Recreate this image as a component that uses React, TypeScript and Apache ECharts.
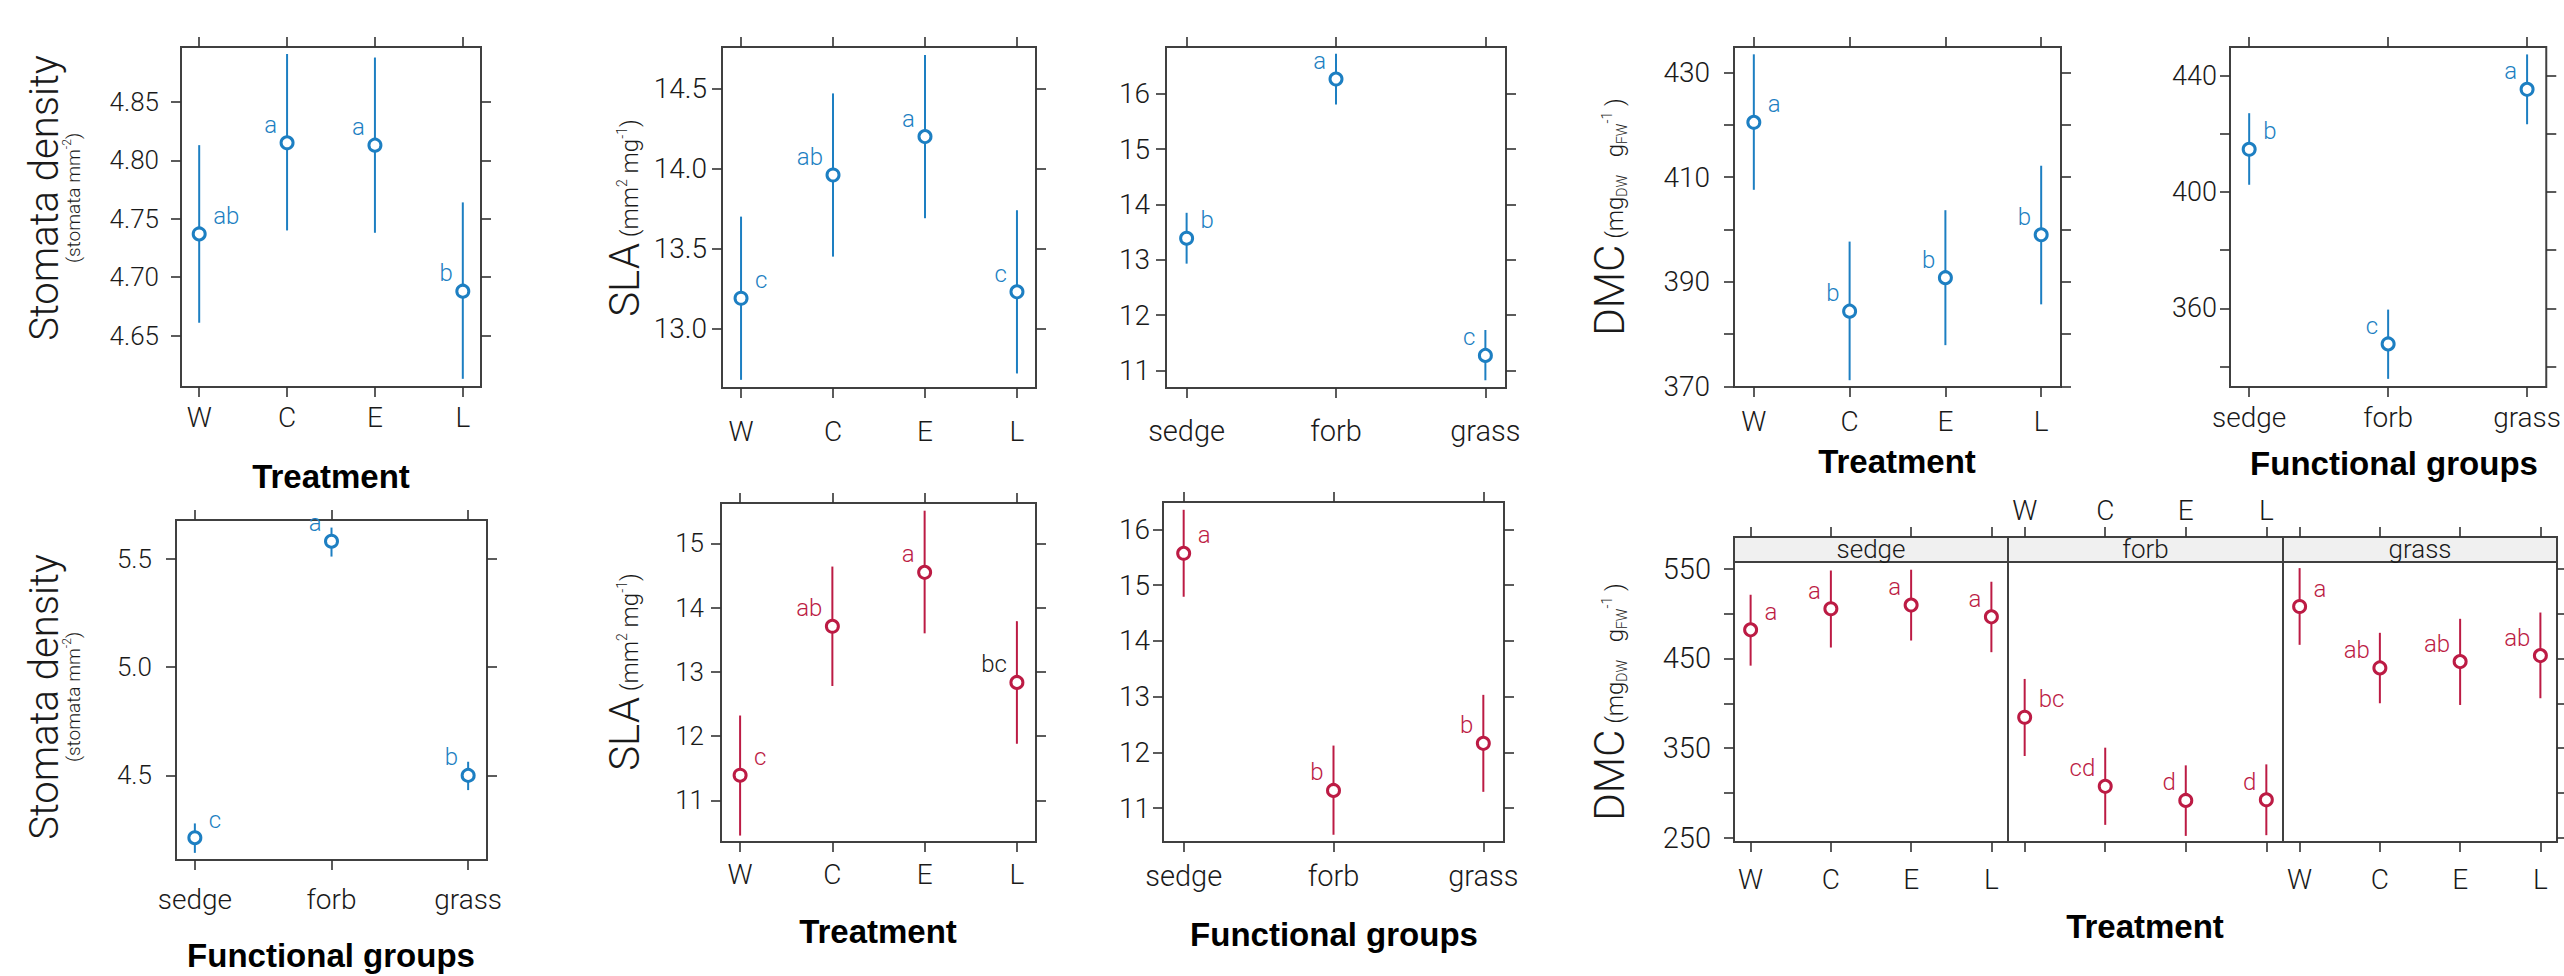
import React, { useEffect, useRef } from "react";
import * as echarts from "echarts";

// ---------- categories ----------
const treatments = ["W", "C", "E", "L"];
const groups = ["sedge", "forb", "grass"];

// ---------- Stomata density by treatment (blue) ----------
const stomataTrtMean = [4.737, 4.815, 4.813, 4.688];
const stomataTrtLo = [4.661, 4.74, 4.738, 4.613];
const stomataTrtHi = [4.813, 4.891, 4.888, 4.764];
const stomataTrtLetters = ["ab", "a", "a", "b"];

// ---------- SLA by treatment (blue) ----------
const slaTrtMean = [13.19, 13.96, 14.2, 13.23];
const slaTrtLo = [12.68, 13.45, 13.69, 12.72];
const slaTrtHi = [13.7, 14.47, 14.71, 13.74];
const slaTrtLetters = ["c", "ab", "a", "c"];

// ---------- SLA by functional group (blue) ----------
const slaGrpMean = [13.39, 16.27, 11.27];
const slaGrpLo = [12.93, 15.81, 10.82];
const slaGrpHi = [13.85, 16.73, 11.73];
const slaGrpLetters = ["b", "a", "c"];

// ---------- DMC by treatment (blue) ----------
const dmcTrtMean = [420.5, 384.4, 390.8, 399.0];
const dmcTrtLo = [407.6, 371.2, 377.9, 385.7];
const dmcTrtHi = [433.5, 397.7, 403.7, 412.2];
const dmcTrtLetters = ["a", "b", "b", "b"];

// ---------- DMC by functional group (blue) ----------
const dmcGrpMean = [414.7, 347.8, 435.3];
const dmcGrpLo = [402.5, 335.8, 423.3];
const dmcGrpHi = [427.1, 359.6, 447.3];
const dmcGrpLetters = ["b", "c", "a"];

// ---------- Stomata density by functional group (blue) ----------
const stomataGrpMean = [4.212, 5.582, 4.5];
const stomataGrpLo = [4.142, 5.511, 4.432];
const stomataGrpHi = [4.278, 5.645, 4.563];
const stomataGrpLetters = ["c", "a", "b"];

// ---------- SLA by treatment (red) ----------
const slaTrt2Mean = [11.39, 13.71, 14.55, 12.835];
const slaTrt2Lo = [10.45, 12.78, 13.6, 11.88];
const slaTrt2Hi = [12.32, 14.64, 15.51, 13.79];
const slaTrt2Letters = ["c", "ab", "a", "bc"];
const slaTrt2LetterInk = ["", "", "", "#1a1a1a"];

// ---------- SLA by functional group (red) ----------
const slaGrp2Mean = [15.57, 11.315, 12.16];
const slaGrp2Lo = [14.79, 10.52, 11.29];
const slaGrp2Hi = [16.35, 12.12, 13.03];
const slaGrp2Letters = ["a", "b", "b"];

// ---------- DMC by group x treatment (red) ----------
const dmcSedgeMean = [481.9, 505.4, 509.5, 496.4];
const dmcSedgeLo = [442.0, 462.2, 470.0, 457.0];
const dmcSedgeHi = [521.0, 548.0, 548.9, 535.5];
const dmcSedgeLetters = ["a", "a", "a", "a"];

const dmcForbMean = [384.5, 307.5, 291.8, 292.5];
const dmcForbLo = [341.3, 264.6, 252.3, 253.1];
const dmcForbHi = [427.2, 350.6, 330.9, 332.0];
const dmcForbLetters = ["bc", "cd", "d", "d"];

const dmcGrassMean = [507.9, 439.5, 446.5, 453.2];
const dmcGrassLo = [465.2, 400.1, 398.2, 405.7];
const dmcGrassHi = [550.7, 478.6, 494.2, 501.2];
const dmcGrassLetters = ["a", "ab", "ab", "ab"];

// ---------- tick values ----------
const stomataTrtTicks = [4.65, 4.7, 4.75, 4.8, 4.85];
const slaTrtTicks = [13, 13.5, 14, 14.5];
const slaGrpTicks = [11, 12, 13, 14, 15, 16];
const dmcTrtTicks = [370, 380, 390, 400, 410, 420, 430];
const dmcTrtLabels = [370, 390, 410, 430];
const dmcGrpTicks = [340, 360, 380, 400, 420, 440];
const dmcGrpLabels = [360, 400, 440];
const stomataGrpTicks = [4.5, 5.0, 5.5];
const slaTrt2Ticks = [11, 12, 13, 14, 15];
const slaGrp2Ticks = [11, 12, 13, 14, 15, 16];
const dmcFacetTicks = [250, 300, 350, 400, 450, 500, 550];
const dmcFacetLabels = [250, 350, 450, 550];

// ---------- styling ----------
const BLUE = "#1d7fc2";
const RED = "#bc1b44";
const INK = "#1a1a1a";
const FONT = "Roboto, 'Liberation Sans', sans-serif";
const BOLD = "'Liberation Sans', Arial, sans-serif";

function catRange(n: number) {
  const pad = 0.069 * (n - 1);
  return [1 - pad, n + pad];
}

type Panel = {
  left: number; top: number; width: number; height: number;
  cats: string[];
  yMin: number; yMax: number; yTicks: number[]; yLabels: number[]; dec: number;
  mean: number[]; lo: number[]; hi: number[]; letters: string[]; color: string; ink?: string[];
  yMargin: number; yFont: number; xMargin: number; xFont: number;
  leftTicks: boolean; rightTicks: boolean; bottomLabels: boolean;
  topLabels?: boolean; topOffset?: number; topMargin?: number;
};

const panels: Panel[] = [
  { left: 181, top: 47, width: 300, height: 340, cats: treatments, yMin: 4.606, yMax: 4.897,
    yTicks: stomataTrtTicks, yLabels: stomataTrtTicks, dec: 2,
    mean: stomataTrtMean, lo: stomataTrtLo, hi: stomataTrtHi, letters: stomataTrtLetters, color: BLUE,
    yMargin: 22, yFont: 26, xMargin: 16, xFont: 28, leftTicks: true, rightTicks: true, bottomLabels: true },
  { left: 722, top: 47, width: 314, height: 341, cats: treatments, yMin: 12.629, yMax: 14.76,
    yTicks: slaTrtTicks, yLabels: slaTrtTicks, dec: 1,
    mean: slaTrtMean, lo: slaTrtLo, hi: slaTrtHi, letters: slaTrtLetters, color: BLUE,
    yMargin: 15, yFont: 28, xMargin: 29, xFont: 28, leftTicks: true, rightTicks: true, bottomLabels: true },
  { left: 1166, top: 47, width: 340, height: 341, cats: groups, yMin: 10.68, yMax: 16.85,
    yTicks: slaGrpTicks, yLabels: slaGrpTicks, dec: 0,
    mean: slaGrpMean, lo: slaGrpLo, hi: slaGrpHi, letters: slaGrpLetters, color: BLUE,
    yMargin: 16, yFont: 28, xMargin: 28, xFont: 29, leftTicks: true, rightTicks: true, bottomLabels: true },
  { left: 1734, top: 47, width: 327, height: 340, cats: treatments, yMin: 369.9, yMax: 434.9,
    yTicks: dmcTrtTicks, yLabels: dmcTrtLabels, dec: 0,
    mean: dmcTrtMean, lo: dmcTrtLo, hi: dmcTrtHi, letters: dmcTrtLetters, color: BLUE,
    yMargin: 24, yFont: 28, xMargin: 20, xFont: 28, leftTicks: true, rightTicks: true, bottomLabels: true },
  { left: 2230, top: 47, width: 328, height: 340, cats: groups, yMin: 333.0, yMax: 449.85,
    yTicks: dmcGrpTicks, yLabels: dmcGrpLabels, dec: 0,
    mean: dmcGrpMean, lo: dmcGrpLo, hi: dmcGrpHi, letters: dmcGrpLetters, color: BLUE,
    yMargin: 13, yFont: 27, xMargin: 16, xFont: 28, leftTicks: true, rightTicks: true, bottomLabels: true },
  { left: 176, top: 520, width: 311, height: 340, cats: groups, yMin: 4.109, yMax: 5.68,
    yTicks: stomataGrpTicks, yLabels: stomataGrpTicks, dec: 1,
    mean: stomataGrpMean, lo: stomataGrpLo, hi: stomataGrpHi, letters: stomataGrpLetters, color: BLUE,
    yMargin: 24, yFont: 26, xMargin: 25, xFont: 28, leftTicks: true, rightTicks: true, bottomLabels: true },
  { left: 721, top: 503, width: 315, height: 339, cats: treatments, yMin: 10.35, yMax: 15.63,
    yTicks: slaTrt2Ticks, yLabels: slaTrt2Ticks, dec: 0,
    mean: slaTrt2Mean, lo: slaTrt2Lo, hi: slaTrt2Hi, letters: slaTrt2Letters, color: RED, ink: slaTrt2LetterInk,
    yMargin: 17, yFont: 26, xMargin: 18, xFont: 28, leftTicks: true, rightTicks: true, bottomLabels: true },
  { left: 1163, top: 502, width: 341, height: 340, cats: groups, yMin: 10.39, yMax: 16.49,
    yTicks: slaGrp2Ticks, yLabels: slaGrp2Ticks, dec: 0,
    mean: slaGrp2Mean, lo: slaGrp2Lo, hi: slaGrp2Hi, letters: slaGrp2Letters, color: RED,
    yMargin: 13, yFont: 28, xMargin: 19, xFont: 29, leftTicks: true, rightTicks: true, bottomLabels: true },
  { left: 1734, top: 562, width: 274, height: 280, cats: treatments, yMin: 245.5, yMax: 557.5,
    yTicks: dmcFacetTicks, yLabels: dmcFacetLabels, dec: 0,
    mean: dmcSedgeMean, lo: dmcSedgeLo, hi: dmcSedgeHi, letters: dmcSedgeLetters, color: RED,
    yMargin: 23, yFont: 29, xMargin: 23, xFont: 28, leftTicks: true, rightTicks: false, bottomLabels: true,
    topOffset: 25 },
  { left: 2008, top: 562, width: 275, height: 280, cats: treatments, yMin: 245.5, yMax: 557.5,
    yTicks: dmcFacetTicks, yLabels: [], dec: 0,
    mean: dmcForbMean, lo: dmcForbLo, hi: dmcForbHi, letters: dmcForbLetters, color: RED,
    yMargin: 23, yFont: 29, xMargin: 23, xFont: 28, leftTicks: false, rightTicks: false, bottomLabels: false,
    topOffset: 25, topLabels: true, topMargin: 13 },
  { left: 2283, top: 562, width: 274, height: 280, cats: treatments, yMin: 245.5, yMax: 557.5,
    yTicks: dmcFacetTicks, yLabels: [], dec: 0,
    mean: dmcGrassMean, lo: dmcGrassLo, hi: dmcGrassHi, letters: dmcGrassLetters, color: RED,
    yMargin: 23, yFont: 29, xMargin: 23, xFont: 28, leftTicks: false, rightTicks: true, bottomLabels: true,
    topOffset: 25 },
];

const tickStyle = { color: "#333", width: 1.6 };

function buildOption() {
  const grid: any[] = [];
  const xAxis: any[] = [];
  const yAxis: any[] = [];
  const series: any[] = [];

  panels.forEach((p, i) => {
    const [xmin, xmax] = catRange(p.cats.length);
    const catVals = p.cats.map((_, k) => k + 1);
    grid.push({
      left: p.left, top: p.top, width: p.width, height: p.height,
      show: true, borderColor: "#404040", borderWidth: 2, backgroundColor: "transparent",
    });
    const xLabelFmt = (v: number) => p.cats[Math.round(v) - 1] ?? "";
    const xBase = {
      type: "value", gridIndex: i, min: xmin, max: xmax,
      axisLine: { show: false }, splitLine: { show: false },
    };
    xAxis.push({
      ...xBase, position: "bottom",
      axisTick: { show: true, customValues: catVals, length: 10, lineStyle: tickStyle },
      axisLabel: {
        show: p.bottomLabels, customValues: catVals, formatter: xLabelFmt, margin: p.xMargin,
        fontSize: p.xFont, fontFamily: FONT, fontWeight: 300, color: INK,
      },
    });
    xAxis.push({
      ...xBase, position: "top", offset: p.topOffset || 0,
      axisTick: { show: true, customValues: catVals, length: 10, lineStyle: tickStyle },
      axisLabel: {
        show: !!p.topLabels, customValues: catVals, formatter: xLabelFmt, margin: p.topMargin || 13,
        fontSize: p.xFont, fontFamily: FONT, fontWeight: 300, color: INK,
      },
    });
    const yBase = {
      type: "value", gridIndex: i, min: p.yMin, max: p.yMax,
      axisLine: { show: false }, splitLine: { show: false },
    };
    yAxis.push({
      ...yBase, position: "left",
      axisTick: { show: p.leftTicks, customValues: p.yTicks, length: 10, lineStyle: tickStyle },
      axisLabel: {
        show: p.yLabels.length > 0, customValues: p.yLabels.length ? p.yLabels : p.yTicks,
        formatter: (v: number) => v.toFixed(p.dec), margin: p.yMargin,
        fontSize: p.yFont, fontFamily: FONT, fontWeight: 300, color: INK,
      },
    });
    yAxis.push({
      ...yBase, position: "right",
      axisTick: { show: p.rightTicks, customValues: p.yTicks, length: 10, lineStyle: tickStyle },
      axisLabel: { show: false },
    });

    series.push({
      type: "custom",
      xAxisIndex: 2 * i,
      yAxisIndex: 2 * i,
      clip: false,
      data: p.cats.map((_, k) => [k + 1, p.mean[k], p.lo[k], p.hi[k]]),
      renderItem: (params: any, api: any) => {
        const x = api.value(0);
        const pm = api.coord([x, api.value(1)]);
        const pl = api.coord([x, api.value(2)]);
        const ph = api.coord([x, api.value(3)]);
        const k = params.dataIndex;
        const right = k === 0;
        const ink = (p.ink && p.ink[k]) || p.color;
        return {
          type: "group",
          children: [
            { type: "line", shape: { x1: pl[0], y1: pl[1], x2: ph[0], y2: ph[1] },
              style: { stroke: p.color, lineWidth: 2 } },
            { type: "circle", shape: { cx: pm[0], cy: pm[1], r: 6 },
              style: { fill: "#ffffff", stroke: p.color, lineWidth: 3 } },
            { type: "text", x: pm[0] + (right ? 14 : -10), y: pm[1] - 18,
              style: { text: p.letters[k], fill: ink, fontSize: 24, fontFamily: FONT, fontWeight: 300,
                align: right ? "left" : "right", verticalAlign: "middle" } },
          ],
        };
      },
    });
  });

  // rich styles: tokens are centred on the line middle; padding shifts them
  // (text centre moves by (padTop - padBottom) / 2) so baselines line up.
  const tok = (f: number, padding?: number[]) => ({
    fontSize: f, fontFamily: FONT, fontWeight: 300, fill: INK, ...(padding ? { padding } : {}),
  });
  const richSet = {
    big: tok(42),
    u: tok(24, [11.4, 0, 0, 0]),
    sup: tok(14, [0, 0, 4.2, 0]),
    sub: tok(14, [25.8, 0, 0, 0]),
  };

  const slaTitle = (x: number, y: number) => ({
    type: "text", x, y, rotation: Math.PI / 2,
    style: { text: "{big|SLA}{u| (mm}{sup|2}{u| mg}{sup|-1}{u|)}", align: "center", verticalAlign: "middle",
      fontSize: 24, fontFamily: FONT, rich: richSet },
  });
  const dmcTitle = (x: number, y: number) => ({
    type: "text", x, y, rotation: Math.PI / 2,
    style: { text: "{big|DMC}{u| (mg}{sub|DW}{u|   g}{sub|FW}{sup|-1}{u| )}", align: "center", verticalAlign: "middle",
      fontSize: 24, fontFamily: FONT, rich: richSet },
  });
  const smallRich = {
    s: tok(19),
    p: tok(12, [0, 0, 11.4, 0]),
  };
  const stomataTitle = (xBig: number, xSmall: number, y: number) => [
    { type: "text", x: xBig, y, rotation: Math.PI / 2,
      style: { text: "Stomata density", align: "center", verticalAlign: "middle",
        fontSize: 40, fontFamily: FONT, fontWeight: 300, fill: INK } },
    { type: "text", x: xSmall, y, rotation: Math.PI / 2,
      style: { text: "{s|(stomata mm}{p|-2}{s|)}", align: "center", verticalAlign: "middle",
        fontSize: 19, fontFamily: FONT, rich: smallRich } },
  ];
  const xTitle = (text: string, x: number, y: number) => ({
    type: "text", x, y,
    style: { text, align: "center", verticalAlign: "middle", fontSize: 33, fontWeight: "bold",
      fontFamily: BOLD, fill: "#000" },
  });
  const strip = (text: string, x: number, w: number) => [
    { type: "rect", shape: { x, y: 537, width: w, height: 25 },
      style: { fill: "#f0f0f0", stroke: "#404040", lineWidth: 2 } },
    { type: "text", x: x + w / 2, y: 549,
      style: { text, align: "center", verticalAlign: "middle", fontSize: 26, fontFamily: FONT,
        fontWeight: 300, fill: INK } },
  ];

  const graphic: any[] = [
    ...stomataTitle(44, 73, 198),
    ...stomataTitle(44, 73, 697),
    slaTitle(624, 218),
    slaTitle(624, 672),
    dmcTitle(1609, 217),
    dmcTitle(1609, 702),
    xTitle("Treatment", 331, 476),
    xTitle("Treatment", 1897, 461),
    xTitle("Functional groups", 2394, 463),
    xTitle("Functional groups", 331, 955),
    xTitle("Treatment", 878, 931),
    xTitle("Functional groups", 1334, 934),
    xTitle("Treatment", 2145, 926),
    ...strip(groups[0], 1734, 274),
    ...strip(groups[1], 2008, 275),
    ...strip(groups[2], 2283, 274),
  ];

  return { animation: false, backgroundColor: "#ffffff", grid, xAxis, yAxis, series, graphic };
}

export default function App() {
  const ref = useRef<HTMLDivElement>(null);
  useEffect(() => {
    document.body.style.margin = "0";
    document.body.style.overflow = "hidden";
    const chart = echarts.init(ref.current as HTMLDivElement, null, { renderer: "svg", width: 2564, height: 976 });
    chart.setOption(buildOption() as any);
    return () => chart.dispose();
  }, []);
  return <div ref={ref} style={{ width: 2564, height: 976 }} />;
}
